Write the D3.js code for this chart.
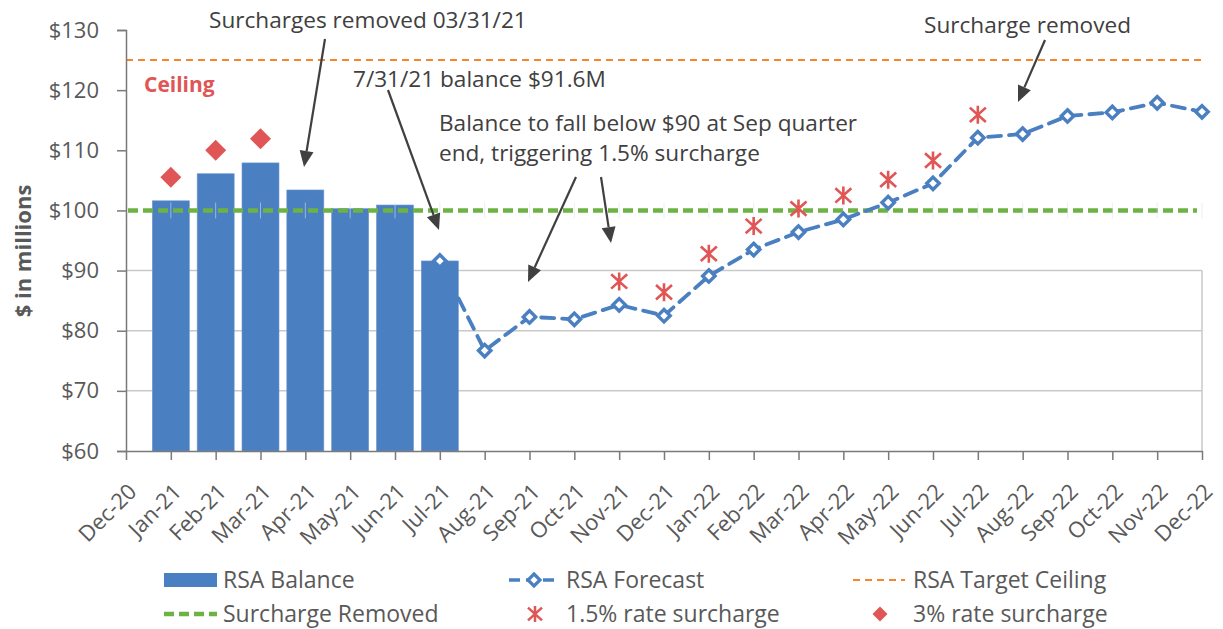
<!DOCTYPE html>
<html><head><meta charset="utf-8">
<script src="https://cdn.jsdelivr.net/npm/d3@7"></script>
<style>
html,body{margin:0;padding:0;background:#fff;}
svg{display:block;font-family:"Open Sans","Noto Sans",sans-serif;}
</style></head>
<body>
<svg id="chart" width="1223" height="629"></svg>
<script>
const months = ["Dec-20","Jan-21","Feb-21","Mar-21","Apr-21","May-21","Jun-21","Jul-21","Aug-21","Sep-21","Oct-21","Nov-21","Dec-21","Jan-22","Feb-22","Mar-22","Apr-22","May-22","Jun-22","Jul-22","Aug-22","Sep-22","Oct-22","Nov-22","Dec-22"];
const balanceMonths = ["Jan-21","Feb-21","Mar-21","Apr-21","May-21","Jun-21","Jul-21"];
const balanceValues = [101.6,106.1,107.9,103.4,100.3,100.9,91.6];
const forecastMonths = ["Jul-21","Aug-21","Sep-21","Oct-21","Nov-21","Dec-21","Jan-22","Feb-22","Mar-22","Apr-22","May-22","Jun-22","Jul-22","Aug-22","Sep-22","Oct-22","Nov-22","Dec-22"];
const forecastValues = [91.6,76.7,82.3,81.9,84.3,82.5,89.1,93.5,96.4,98.5,101.3,104.5,112.1,112.7,115.7,116.3,117.9,116.4];
const surcharge15Months = ["Nov-21","Dec-21","Jan-22","Feb-22","Mar-22","Apr-22","May-22","Jun-22","Jul-22"];
const surcharge15Values = [88.2,86.4,92.8,97.4,100.3,102.5,105.1,108.3,115.9];
const surcharge3Months = ["Jan-21","Feb-21","Mar-21"];
const surcharge3Values = [105.5,110.0,111.9];
const ceilingValue = 125;
const removedValue = 100;
const yTicks = [60,70,80,90,100,110,120,130];
const gridValues = [70,80,90];
const legendLabels = ["RSA Balance","RSA Forecast","RSA Target Ceiling","Surcharge Removed","1.5% rate surcharge","3% rate surcharge"];

const C = {bar:"#4a7fc1", red:"#e05656", orange:"#f5862a", green:"#6cb244", text:"#404040", axis:"#595959", grid:"#c9c9c9"};

const svg = d3.select("#chart");
const x = d3.scalePoint().domain(months).range([126,1202]);
const y = d3.scaleLinear().domain([60,130]).range([451,30]);
const barW = 37;

// gridlines
svg.append("g").selectAll("line").data(gridValues).join("line")
  .attr("x1",x.range()[0]).attr("x2",x.range()[1])
  .attr("y1",d=>y(d)).attr("y2",d=>y(d))
  .attr("stroke",C.grid).attr("stroke-width",1.5);
svg.append("line").attr("x1",1202).attr("x2",1202).attr("y1",y(90)).attr("y2",y(60))
  .attr("stroke",C.grid).attr("stroke-width",1.5);

// bars
svg.append("g").selectAll("rect").data(balanceValues).join("rect")
  .attr("x",(d,i)=>x(balanceMonths[i])-barW/2).attr("width",barW)
  .attr("y",d=>y(d)).attr("height",d=>y(60)-y(d))
  .attr("fill",C.bar).attr("stroke","#6b98d0").attr("stroke-width",0.6);

// ceiling
svg.append("line").attr("x1",126).attr("x2",1202).attr("y1",y(ceilingValue)).attr("y2",y(ceilingValue))
  .attr("stroke",C.orange).attr("stroke-width",2).attr("stroke-dasharray","7,5");
// surcharge removed line
svg.append("line").attr("x1",128).attr("x2",1197).attr("y1",y(removedValue)).attr("y2",y(removedValue))
  .attr("stroke",C.green).attr("stroke-width",4.5).attr("stroke-dasharray","10,5");
// faint error ticks on 100 line
svg.append("g").selectAll("line").data(months).join("line")
  .attr("x1",d=>x(d)).attr("x2",d=>x(d))
  .attr("y1",y(removedValue)-8).attr("y2",y(removedValue)+8)
  .attr("stroke","#dbe4f0").attr("stroke-width",0.8).attr("opacity",0.7);

// forecast line
const line = d3.line().x((d,i)=>x(forecastMonths[i])).y(d=>y(d));
svg.append("path").datum(forecastValues).attr("d",line)
  .attr("fill","none").attr("stroke",C.bar).attr("stroke-width",3.8)
  .attr("stroke-dasharray","13,8").attr("stroke-linecap","round");
const diamond = r => `M0,${-r}L${r},0L0,${r}L${-r},0Z`;
svg.append("g").selectAll("path").data(forecastValues).join("path")
  .attr("transform",(d,i)=>`translate(${x(forecastMonths[i])},${y(d)})`)
  .attr("d",diamond(6.2)).attr("fill","#fff").attr("stroke",C.bar).attr("stroke-width",3.4);

// 3% diamonds
svg.append("g").selectAll("path").data(surcharge3Values).join("path")
  .attr("transform",(d,i)=>`translate(${x(surcharge3Months[i])},${y(d)})`)
  .attr("d",diamond(10.5)).attr("fill",C.red);

// 1.5% asterisks
const star = (r,w) => `M0,${-r}V${r}M${-w},${-r*0.8}L${w},${r*0.8}M${-w},${r*0.8}L${w},${-r*0.8}`;
svg.append("g").selectAll("path").data(surcharge15Values).join("path")
  .attr("transform",(d,i)=>`translate(${x(surcharge15Months[i])},${y(d)})`)
  .attr("d",star(9,8)).attr("fill","none").attr("stroke",C.red).attr("stroke-width",2.6);

// axes
const yAxis = svg.append("g").attr("transform","translate(126,0)")
  .call(d3.axisLeft(y).tickValues(yTicks).tickSize(9).tickPadding(18).tickFormat(d=>"$"+d));
const xAxis = svg.append("g").attr("transform",`translate(0,${y(60)})`)
  .call(d3.axisBottom(x).tickSize(9).tickSizeOuter(0).tickFormat(""));
[yAxis,xAxis].forEach(a=>{
  a.select(".domain").attr("stroke","#7a7a7a").attr("stroke-width",1.5);
  a.selectAll(".tick line").attr("stroke","#7a7a7a").attr("stroke-width",1.5);
});
yAxis.selectAll("text").attr("fill",C.axis).style("font-size","22px").style("font-family","'Open Sans'");
svg.append("g").selectAll("text").data(months).join("text")
  .attr("transform",d=>`translate(${x(d)+12},${y(60)+42}) rotate(-45)`)
  .attr("text-anchor","end").attr("fill",C.axis).style("font-size","22px").text(d=>d);

// y title
svg.append("text").attr("transform","translate(31,251) rotate(-90)")
  .attr("text-anchor","middle").attr("fill",C.axis).style("font-size","22px").style("font-weight","bold")
  .text("$ in millions");

// annotations
const ann = [
  {t:"Surcharges removed 03/31/21", x:209, y:28},
  {t:"7/31/21 balance $91.6M", x:353, y:87},
  {t:"Balance to fall below $90 at Sep quarter", x:439, y:131},
  {t:"end, triggering 1.5% surcharge", x:439, y:161},
  {t:"Surcharge removed", x:924, y:33}
];
svg.append("g").selectAll("text").data(ann).join("text")
  .attr("x",d=>d.x).attr("y",d=>d.y).attr("fill",C.text).style("font-size","22.6px").text(d=>d.t);
svg.append("text").attr("x",144).attr("y",92).attr("fill",C.red).style("font-size","21px").style("font-weight","bold").text("Ceiling");

const arrows = [
  [325,39,304,167],[388,90,439,230],[576,177,528,282],[601,177,611,243],[1045,40,1018,102]
];
const ag = svg.append("g");
arrows.forEach(([x1,y1,x2,y2])=>{
  const ang = Math.atan2(y2-y1,x2-x1), L=16, W=7;
  const bx = x2-L*Math.cos(ang), by = y2-L*Math.sin(ang);
  ag.append("line").attr("x1",x1).attr("y1",y1).attr("x2",bx).attr("y2",by)
    .attr("stroke","#404040").attr("stroke-width",2.2);
  const px = -Math.sin(ang)*W, py = Math.cos(ang)*W;
  ag.append("path").attr("d",`M${x2},${y2}L${bx+px},${by+py}L${bx-px},${by-py}Z`).attr("fill","#404040");
});

// legend
const lg = svg.append("g").style("font-size","23px").attr("fill",C.axis);
const r1 = 580, r2 = 614;
lg.append("rect").attr("x",164).attr("y",r1-7).attr("width",53).attr("height",14).attr("fill",C.bar);
lg.append("text").attr("x",223).attr("y",r1+8).attr("fill",C.axis).text(legendLabels[0]);
lg.append("line").attr("x1",508).attr("x2",560).attr("y1",r1).attr("y2",r1)
  .attr("stroke",C.bar).attr("stroke-width",3.5).attr("stroke-dasharray","11,6").attr("stroke-dashoffset",-1);
lg.append("path").attr("transform",`translate(534,${r1})`).attr("d",diamond(6)).attr("fill","#fff").attr("stroke",C.bar).attr("stroke-width",3.2);
lg.append("text").attr("x",566).attr("y",r1+8).attr("fill",C.axis).text(legendLabels[1]);
lg.append("line").attr("x1",853).attr("x2",905).attr("y1",r1).attr("y2",r1)
  .attr("stroke",C.orange).attr("stroke-width",2).attr("stroke-dasharray","7,5");
lg.append("text").attr("x",913).attr("y",r1+8).attr("fill",C.axis).text(legendLabels[2]);
lg.append("line").attr("x1",164).attr("x2",217).attr("y1",r2).attr("y2",r2)
  .attr("stroke",C.green).attr("stroke-width",4.5).attr("stroke-dasharray","10,5");
lg.append("text").attr("x",223).attr("y",r2+8).attr("fill",C.axis).text(legendLabels[3]);
lg.append("path").attr("transform",`translate(535,${r2})`).attr("d",star(8,7)).attr("fill","none").attr("stroke",C.red).attr("stroke-width",2.5);
lg.append("text").attr("x",566).attr("y",r2+8).attr("fill",C.axis).text(legendLabels[4]);
lg.append("path").attr("transform",`translate(880,${r2})`).attr("d",diamond(7.5)).attr("fill",C.red);
lg.append("text").attr("x",913).attr("y",r2+8).attr("fill",C.axis).text(legendLabels[5]);
</script>
</body></html>
